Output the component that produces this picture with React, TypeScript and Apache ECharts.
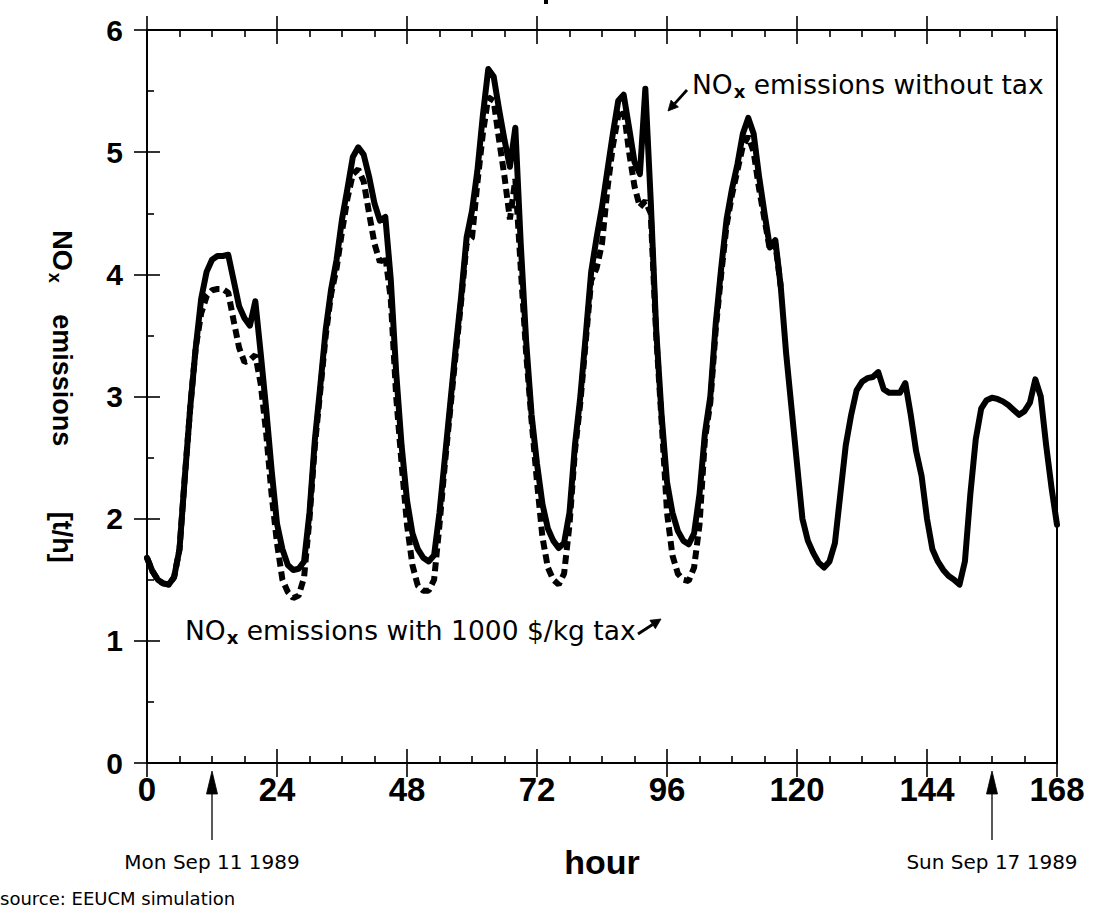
import React, { useEffect, useRef } from "react";
import * as echarts from "echarts";

// NOx emissions without tax [t/h], hourly, hour 0..168
const withoutTax = [
  1.68, 1.57, 1.5, 1.47, 1.46, 1.52, 1.75, 2.35, 2.92, 3.4,
  3.8, 4.02, 4.12, 4.15, 4.15, 4.16, 3.95, 3.74, 3.64, 3.58,
  3.78, 3.35, 2.9, 2.4, 1.96, 1.75, 1.62, 1.58, 1.59, 1.65,
  2.05, 2.65, 3.09, 3.55, 3.88, 4.12, 4.45, 4.7, 4.96, 5.04,
  4.98, 4.8, 4.58, 4.44, 4.47, 3.96, 3.2, 2.6, 2.15, 1.88,
  1.75, 1.68, 1.65, 1.7, 2.05, 2.5, 2.95, 3.4, 3.82, 4.3,
  4.52, 4.85, 5.3, 5.68, 5.62, 5.35, 5.1, 4.88, 5.2, 4.25,
  3.45, 2.85, 2.45, 2.12, 1.92, 1.82, 1.76, 1.8, 2.05, 2.6,
  3.0, 3.5, 4.02, 4.3, 4.55, 4.85, 5.15, 5.42, 5.47, 5.2,
  4.92, 4.82, 5.52, 4.6, 3.55, 2.85, 2.3, 2.05, 1.9, 1.82,
  1.79, 1.88, 2.2, 2.7, 3.0, 3.6, 4.05, 4.45, 4.7, 4.9,
  5.15, 5.28, 5.15, 4.8, 4.5, 4.22, 4.28, 3.9, 3.35, 2.9,
  2.45, 2.0, 1.82, 1.72, 1.64, 1.6, 1.65, 1.8, 2.2, 2.6,
  2.85, 3.05, 3.12, 3.15, 3.16, 3.2, 3.06, 3.03, 3.03, 3.03,
  3.11, 2.85, 2.55, 2.35, 2.0, 1.75, 1.65, 1.58, 1.53, 1.5,
  1.46, 1.65, 2.2, 2.65, 2.9, 2.97, 2.99, 2.98, 2.96, 2.93,
  2.89, 2.85, 2.88, 2.95, 3.14, 3.0, 2.6, 2.25, 1.95,
];

// NOx emissions with 1000 $/kg tax [t/h], hourly, hour 0..117 (identical afterwards)
const withTax = [
  1.68, 1.57, 1.5, 1.47, 1.46, 1.52, 1.75, 2.35, 2.92, 3.4,
  3.68, 3.82, 3.87, 3.88, 3.88, 3.85, 3.62, 3.4, 3.28, 3.3,
  3.34, 3.1, 2.7, 2.2, 1.8, 1.5, 1.4, 1.35, 1.37, 1.52,
  2.0, 2.6, 3.05, 3.5, 3.84, 4.05, 4.35, 4.62, 4.82, 4.86,
  4.76, 4.5, 4.25, 4.1, 4.15, 3.8, 3.0, 2.45, 1.95, 1.62,
  1.45, 1.41, 1.41, 1.5, 1.95, 2.45, 2.9, 3.35, 3.78, 4.25,
  4.3, 4.75, 5.15, 5.45, 5.42, 5.1, 4.8, 4.45, 4.78, 4.05,
  3.35, 2.8, 2.3, 1.85, 1.6, 1.5, 1.46, 1.55, 1.95, 2.55,
  2.95, 3.45, 3.95, 4.05, 4.25, 4.7, 5.05, 5.3, 5.35, 5.0,
  4.72, 4.55, 4.6, 4.5, 3.5, 2.8, 2.05, 1.7, 1.55, 1.5,
  1.49, 1.6, 1.95, 2.65, 2.95, 3.55, 4.0, 4.4, 4.65, 4.85,
  5.05, 5.13, 5.0, 4.7, 4.45, 4.2, 4.25, 3.9,
];

const xMin = 0;
const xMax = 168;
const xStep = 24;
const yMin = 0;
const yMax = 6;
const yStep = 1;

const annotationWithout = "emissions without tax";
const annotationWith = "emissions with 1000 $/kg tax";
const dateStart = "Mon Sep 11 1989";
const dateEnd = "Sun Sep 17 1989";
const dateStartHour = 12;
const dateEndHour = 156;
const sourceNote = "source: EEUCM simulation";

export default function App() {
  const ref = useRef<HTMLDivElement>(null);

  useEffect(() => {
    const chart = echarts.init(ref.current!, null, { renderer: "svg" });
    const L = 147, T = 30, W = 910, H = 733;
    const xPix = (h: number) => L + ((h - xMin) / (xMax - xMin)) * W;

    const arrow = (x1: number, y1: number, x2: number, y2: number, headLen: number, headHalf: number, lw: number) => {
      const dx = x2 - x1, dy = y2 - y1;
      const len = Math.sqrt(dx * dx + dy * dy);
      const ux = dx / len, uy = dy / len;
      const bx = x2 - ux * headLen, by = y2 - uy * headLen;
      const px = -uy, py = ux;
      return [
        { type: "line", shape: { x1, y1, x2: bx, y2: by }, style: { stroke: "#000", lineWidth: lw } },
        {
          type: "polygon",
          shape: { points: [[x2, y2], [bx + px * headHalf, by + py * headHalf], [bx - px * headHalf, by - py * headHalf]] },
          style: { fill: "#000", stroke: "#000", lineWidth: 0.8 },
        },
      ];
    };

    const annFont = '"DejaVu Sans", sans-serif';
    const sansBold = '"Liberation Sans", Arial, sans-serif';
    const richAnn = {
      a: { fontSize: 26.5, fontFamily: annFont, color: "#000", lineHeight: 30 },
      b: { fontSize: 18, fontFamily: annFont, color: "#000", fontWeight: "bold", lineHeight: 30, padding: [14, 0, 0, 1] },
    };

    const solidData = withoutTax.map((v, i) => [i, v]);
    const dashData = withTax.map((v, i) => [i, v]);

    const tickStyle = { color: "#000", width: 1.6 };

    chart.setOption({
      animation: false,
      backgroundColor: "#fff",
      grid: { left: L, top: T, width: W, height: H, show: true, borderColor: "#000", borderWidth: 2, backgroundColor: "transparent" },
      xAxis: [
        {
          type: "value", min: xMin, max: xMax, interval: xStep, position: "bottom",
          axisLine: { show: false },
          axisTick: { show: true, inside: true, length: 14, lineStyle: tickStyle },
          minorTick: { show: true, splitNumber: 4, length: 7, lineStyle: tickStyle },
          splitLine: { show: false },
          axisLabel: { show: true, margin: 10, color: "#000", fontSize: 33, fontWeight: "bold", fontFamily: sansBold },
          name: "hour", nameLocation: "middle", nameGap: 82, nameMoveOverlap: false,
          nameTextStyle: { color: "#000", fontSize: 34, fontWeight: "bold", fontFamily: sansBold },
        },
        {
          type: "value", min: xMin, max: xMax, interval: xStep, position: "bottom",
          axisLine: { show: false }, axisLabel: { show: false }, splitLine: { show: false },
          axisTick: { show: true, inside: false, length: 14, lineStyle: tickStyle },
        },
        {
          type: "value", min: xMin, max: xMax, interval: xStep, position: "top",
          axisLine: { show: false }, axisLabel: { show: false }, splitLine: { show: false },
          axisTick: { show: true, inside: true, length: 14, lineStyle: tickStyle },
          minorTick: { show: true, splitNumber: 4, length: 7, lineStyle: tickStyle },
        },
        {
          type: "value", min: xMin, max: xMax, interval: xStep, position: "top",
          axisLine: { show: false }, axisLabel: { show: false }, splitLine: { show: false },
          axisTick: { show: true, inside: false, length: 14, lineStyle: tickStyle },
        },
      ],
      yAxis: [
        {
          type: "value", min: yMin, max: yMax, interval: yStep, position: "left",
          axisLine: { show: false },
          axisTick: { show: true, inside: true, length: 13, lineStyle: tickStyle },
          minorTick: { show: true, splitNumber: 2, length: 7, lineStyle: tickStyle },
          splitLine: { show: false },
          axisLabel: { show: true, margin: 24, color: "#000", fontSize: 30, fontWeight: "bold", fontFamily: sansBold },
          name: "{n|NO}{x|x}{e| emissions}{u| [t/h]}",
          nameLocation: "middle", nameRotate: -90, nameGap: 69, nameMoveOverlap: false,
          nameTextStyle: {
            rich: {
              n: { fontSize: 27, fontWeight: "bold", color: "#000", fontFamily: sansBold, lineHeight: 32 },
              x: { fontSize: 18, fontWeight: "bold", color: "#000", fontFamily: sansBold, lineHeight: 32, padding: [15, 0, 0, 2] },
              e: { fontSize: 27, fontWeight: "bold", color: "#000", fontFamily: sansBold, lineHeight: 32, padding: [0, 0, 0, 24] },
              u: { fontSize: 27, fontWeight: "bold", color: "#000", fontFamily: sansBold, lineHeight: 32, padding: [0, 0, 0, 58] },
            },
          },
        },
        {
          type: "value", min: yMin, max: yMax, interval: yStep, position: "left",
          axisLine: { show: false }, axisLabel: { show: false }, splitLine: { show: false },
          axisTick: { show: true, inside: false, length: 13, lineStyle: tickStyle },
        },
      ],
      series: [
        {
          type: "line", name: "with tax", data: dashData, xAxisIndex: 0, yAxisIndex: 0,
          showSymbol: false, symbol: "none", smooth: false,
          lineStyle: { color: "#000", width: 6, type: [9, 5], cap: "butt" },
          z: 2,
        },
        {
          type: "line", name: "without tax", data: solidData, xAxisIndex: 0, yAxisIndex: 0,
          showSymbol: false, symbol: "none", smooth: false,
          lineStyle: { color: "#000", width: 6, cap: "round", join: "round" },
          z: 3,
        },
      ],
      graphic: [
        { type: "rect", shape: { x: 544, y: 0, width: 4, height: 4 }, style: { fill: "#000" } },
        ...arrow(687, 90, 668, 111, 10, 5, 2.8),
        {
          type: "text", x: 692, y: 84,
          style: { text: "{a|NO}{b|x}{a| " + annotationWithout + "}", rich: richAnn, verticalAlign: "middle", align: "left" },
        },
        {
          type: "text", x: 185, y: 630,
          style: { text: "{a|NO}{b|x}{a| " + annotationWith + "}", rich: richAnn, verticalAlign: "middle", align: "left" },
        },
        ...arrow(638, 634, 661, 619, 10, 5, 2.8),
        ...arrow(xPix(dateStartHour), 840, xPix(dateStartHour), 771, 23, 5.5, 1.3),
        ...arrow(xPix(dateEndHour), 840, xPix(dateEndHour), 771, 23, 5.5, 1.3),
        {
          type: "text", x: xPix(dateStartHour), y: 862,
          style: { text: dateStart, fontSize: 20, fontFamily: annFont, fill: "#000", align: "center", verticalAlign: "middle" },
        },
        {
          type: "text", x: xPix(dateEndHour), y: 862,
          style: { text: dateEnd, fontSize: 20, fontFamily: annFont, fill: "#000", align: "center", verticalAlign: "middle" },
        },
        {
          type: "text", x: 0, y: 898,
          style: { text: sourceNote, fontSize: 18, fontFamily: annFont, fill: "#000", align: "left", verticalAlign: "middle" },
        },
      ],
    });

    return () => chart.dispose();
  }, []);

  return (
    <div
      ref={ref}
      style={{ position: "fixed", left: 0, top: 0, width: 1093, height: 914, background: "#fff" }}
    />
  );
}
